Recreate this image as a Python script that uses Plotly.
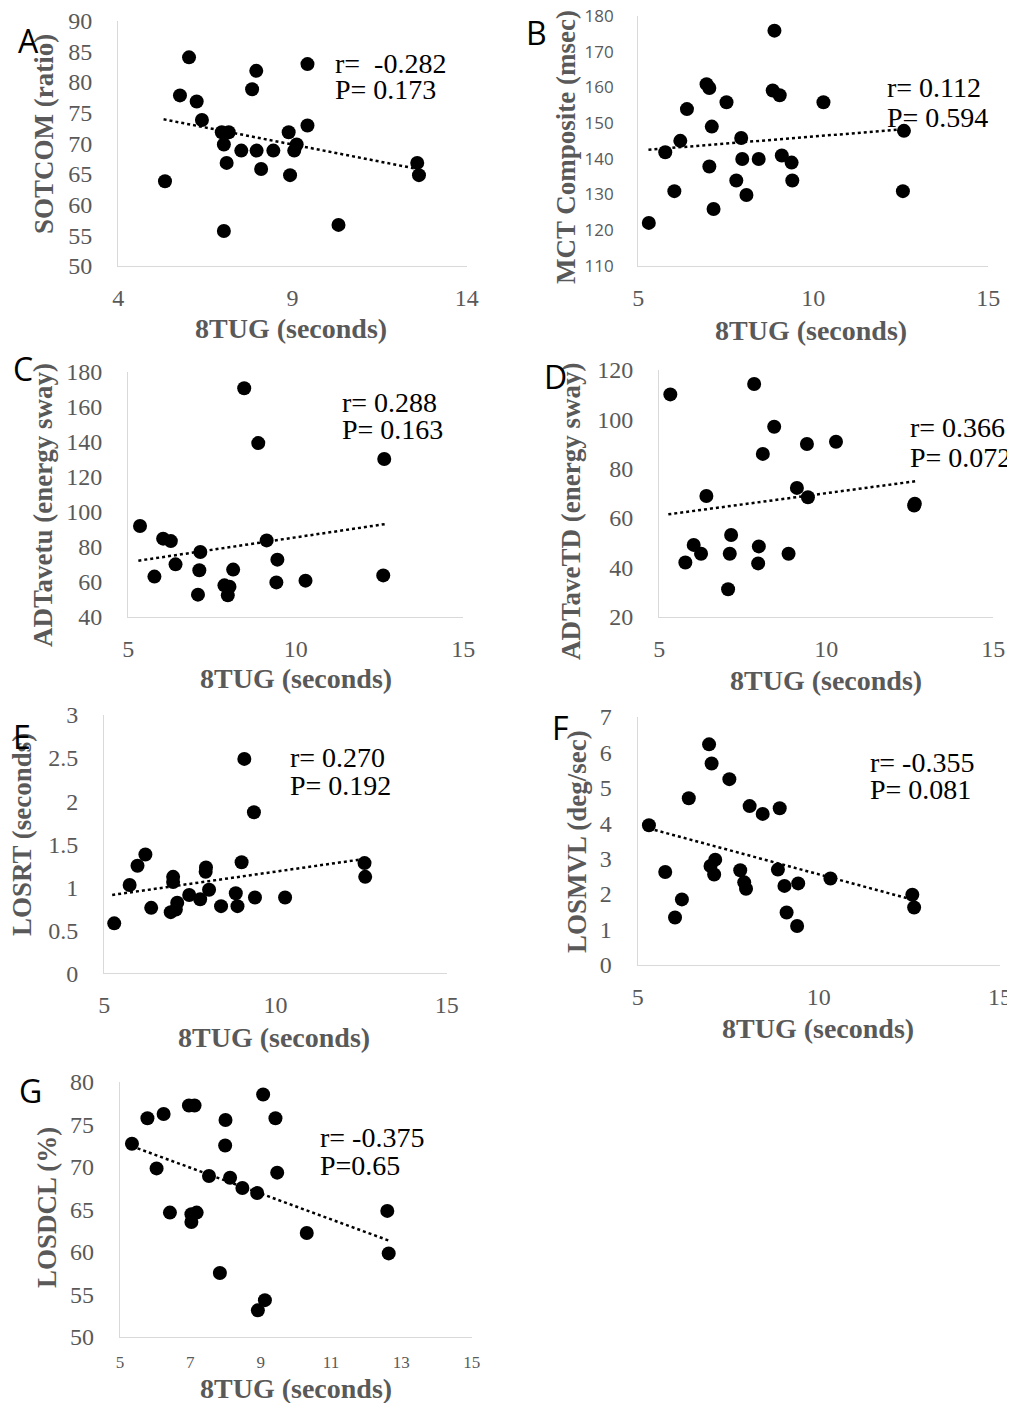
import plotly.graph_objects as go

W, H = 1015, 1403
OFF = 8  # page body margin offset of the plot div

# ---------------- data ----------------
A_x = [5.34, 6.03, 5.77, 6.25, 6.40, 6.97, 7.17, 7.03, 7.11, 7.03, 7.53, 7.97, 8.45, 7.84, 7.96, 8.10, 8.89, 8.93, 9.12, 9.05, 9.43, 9.43, 10.32, 12.58, 12.63]
A_y = [63.8, 84.0, 77.8, 76.8, 73.8, 71.8, 71.8, 69.8, 66.8, 55.7, 68.8, 68.8, 68.8, 78.8, 81.8, 65.8, 71.8, 64.8, 69.8, 68.8, 82.9, 72.9, 56.7, 66.8, 64.8]
A_trend_x = [5.3, 12.6]
A_trend_y = [73.9, 65.8]

B_x = [5.30, 5.77, 6.03, 6.20, 6.39, 6.95, 7.03, 7.03, 7.10, 7.15, 7.52, 7.80, 7.94, 7.97, 8.09, 8.44, 8.89, 8.84, 9.04, 9.10, 9.38, 9.40, 10.29, 12.59, 12.56]
B_y = [122.0, 141.8, 130.9, 145.0, 153.9, 160.9, 159.8, 137.8, 149.0, 125.9, 155.8, 133.9, 145.8, 139.9, 129.8, 139.9, 175.9, 159.1, 157.8, 140.9, 138.9, 133.9, 155.8, 147.8, 130.9]
B_trend_x = [5.29, 12.52]
B_trend_y = [142.5, 148.2]

C_x = [5.35, 5.78, 6.04, 6.27, 6.41, 7.15, 7.12, 7.08, 7.87, 8.02, 7.97, 8.13, 8.46, 8.88, 9.13, 9.45, 9.42, 10.29, 12.64, 12.61]
C_y = [91.8, 62.9, 84.6, 83.2, 69.9, 77.0, 66.5, 52.6, 57.9, 57.1, 52.2, 66.9, 170.5, 139.2, 83.6, 72.6, 59.6, 60.6, 130.1, 63.6]
C_trend_x = [5.30, 12.66]
C_trend_y = [72.0, 92.9]

D_x = [5.33, 5.78, 6.03, 6.25, 6.41, 7.15, 7.11, 7.06, 7.84, 7.98, 7.96, 8.10, 8.44, 8.87, 9.12, 9.42, 9.45, 10.29, 12.63, 12.65]
D_y = [110.1, 42.0, 49.1, 45.5, 68.9, 53.1, 45.5, 31.1, 114.3, 48.5, 41.6, 86.0, 97.0, 45.5, 72.2, 90.0, 68.4, 90.9, 65.1, 65.8]
D_trend_x = [5.27, 12.72]
D_trend_y = [61.5, 75.0]

E_x = [5.29, 5.74, 5.97, 6.20, 6.37, 6.94, 7.01, 7.01, 7.09, 7.13, 7.48, 7.80, 7.97, 7.96, 8.06, 8.41, 8.84, 8.89, 9.01, 9.09, 9.37, 9.40, 10.28, 12.60, 12.62]
E_y = [0.58, 1.025, 1.25, 1.38, 0.76, 0.71, 1.12, 1.06, 0.74, 0.82, 0.91, 0.86, 1.23, 1.18, 0.97, 0.78, 0.93, 0.78, 1.29, 2.49, 1.87, 0.88, 0.88, 1.28, 1.12]
E_trend_x = [5.23, 12.63]
E_trend_y = [0.91, 1.33]

F_x = [5.31, 5.76, 6.03, 6.22, 6.41, 6.97, 7.04, 7.01, 7.14, 7.11, 7.53, 7.83, 7.94, 7.99, 8.09, 8.45, 8.92, 8.87, 9.05, 9.11, 9.43, 9.40, 10.32, 12.58, 12.63]
F_y = [3.94, 2.62, 1.34, 1.85, 4.70, 6.22, 5.68, 2.79, 2.97, 2.55, 5.24, 2.67, 2.33, 2.15, 4.48, 4.26, 4.42, 2.69, 2.23, 1.48, 2.30, 1.10, 2.44, 1.98, 1.62]
F_trend_x = [5.31, 12.52]
F_trend_y = [3.85, 1.86]

G_x = [5.34, 5.78, 6.04, 6.24, 6.42, 6.96, 7.12, 7.03, 7.03, 7.18, 7.53, 7.84, 8.00, 7.99, 8.13, 8.48, 8.90, 8.92, 9.07, 9.12, 9.42, 9.47, 10.31, 12.60, 12.64]
G_y = [72.7, 75.7, 69.8, 76.2, 64.6, 77.2, 77.2, 64.4, 63.5, 64.6, 68.9, 57.5, 75.5, 72.5, 68.7, 67.5, 66.9, 53.1, 78.5, 54.3, 75.7, 69.3, 62.2, 64.8, 59.8]
G_trend_x = [5.34, 12.65]
G_trend_y = [72.4, 61.3]

panel_letters = ["A", "B", "C", "D", "E", "F", "G"]
y_titles = ["SOTCOM (ratio)", "MCT Composite (msec)", "ADTavetu (energy sway)",
            "ADTaveTD (energy sway)", "LOSRT (seconds)", "LOSMVL (deg/sec)", "LOSDCL (%)"]
x_title = "8TUG (seconds)"
r_texts = ["r=  -0.282", "r= 0.112", "r= 0.288", "r= 0.366", "r= 0.270", "r= -0.355", "r= -0.375"]
p_texts = ["P= 0.173", "P= 0.594", "P= 0.163", "P= 0.072", "P= 0.192", "P= 0.081", "P=0.65"]

x_ranges = [[4, 14], [5, 15], [5, 15], [5, 15], [5, 15], [5, 15], [5, 15]]
x_dticks = [5, 5, 5, 5, 5, 5, 2]
y_ranges = [[50, 90], [110, 180], [40, 180], [20, 120], [0, 3], [0, 7], [50, 80]]
y_dticks = [5, 10, 20, 20, 0.5, 1, 5]

xs = [A_x, B_x, C_x, D_x, E_x, F_x, G_x]
ys = [A_y, B_y, C_y, D_y, E_y, F_y, G_y]
txs = [A_trend_x, B_trend_x, C_trend_x, D_trend_x, E_trend_x, F_trend_x, G_trend_x]
tys = [A_trend_y, B_trend_y, C_trend_y, D_trend_y, E_trend_y, F_trend_y, G_trend_y]

# ---------------- layout geometry (page pixels) ----------------
# plot area: left, right, top, bottom
boxes = [
    (118.3, 466.7, 20.5, 266.0),
    (638.3, 988.3, 16.0, 265.7),
    (128.3, 463.3, 371.7, 616.7),
    (659.3, 993.3, 370.0, 616.7),
    (104.3, 446.7, 715.0, 973.3),
    (637.7, 1000.0, 716.7, 965.0),
    (120.0, 471.7, 1081.7, 1336.7),
]
xtitle_pos = [(291, 328), (811, 330), (296, 678), (826, 680), (274, 1037), (818, 1028), (296, 1388)]
ytitle_pos = [(44, 134), (566, 147), (43, 505), (571, 512), (22, 835), (577, 842), (47, 1208)]
letter_pos = [(28, 40), (536, 32), (23, 368), (555, 376), (22, 736), (560, 727), (30, 1090)]
rp_pos = [(333, 63, 90), (885, 87, 117), (340, 402, 430), (908, 428, 457),
          (288, 758, 785), (868, 762, 790), (318, 1137, 1165)]

GRAY = "#595959"
SERIF = "Liberation Serif"
SANS = "Open Sans"

def fx(px):
    return (px - OFF) / W

def fy(py):
    return 1 - (py - OFF) / H

fig = go.Figure()
layout = dict(
    template="none",
    width=W, height=H,
    margin=dict(l=0, r=0, t=0, b=0, pad=0, autoexpand=False),
    paper_bgcolor="white", plot_bgcolor="white",
    showlegend=False,
)
annotations = []

for i in range(7):
    n = "" if i == 0 else str(i + 1)
    xa, ya = "x" + n, "y" + n
    l, r, t, b = boxes[i]
    tick_font_x = dict(family=SERIF, size=17 if i == 6 else 24, color=GRAY)
    tick_font_y = dict(family=SANS if i == 1 else SERIF, size=17 if i == 1 else 24, color=GRAY)
    layout["xaxis" + n] = dict(
        domain=[fx(l), fx(r)], range=x_ranges[i], dtick=x_dticks[i], tick0=x_ranges[i][0],
        tickmode="linear", ticklabeloverflow="allow",
        anchor=ya, showgrid=False, zeroline=False, showline=True, automargin=False,
        linecolor="#d9d9d9", linewidth=1.3, ticks="", tickfont=tick_font_x,
        ticklabelstandoff=10,
    )
    layout["yaxis" + n] = dict(
        domain=[fy(b), fy(t)], range=y_ranges[i], dtick=y_dticks[i], tick0=y_ranges[i][0],
        tickmode="linear", ticklabeloverflow="allow",
        anchor=xa, showgrid=False, zeroline=False, showline=True, automargin=False,
        linecolor="#d9d9d9", linewidth=1.3, ticks="", tickfont=tick_font_y,
        ticklabelstandoff=20,
    )
    fig.add_trace(go.Scatter(
        x=xs[i], y=ys[i], mode="markers", xaxis=xa, yaxis=ya,
        marker=dict(color="black", size=14, line=dict(width=0)),
        cliponaxis=False,
    ))
    fig.add_trace(go.Scatter(
        x=txs[i], y=tys[i], mode="lines", xaxis=xa, yaxis=ya,
        line=dict(color="black", width=2.5, dash="dot"),
    ))
    # axis titles
    annotations.append(dict(
        x=fx(xtitle_pos[i][0]), y=fy(xtitle_pos[i][1]), xref="paper", yref="paper",
        text="<b>" + x_title + "</b>", showarrow=False, xanchor="center", yanchor="middle",
        font=dict(family=SERIF, size=28, color=GRAY),
    ))
    annotations.append(dict(
        x=fx(ytitle_pos[i][0]), y=fy(ytitle_pos[i][1]), xref="paper", yref="paper",
        text="<b>" + y_titles[i] + "</b>", showarrow=False, xanchor="center", yanchor="middle",
        textangle=-90, font=dict(family=SERIF, size=27, color=GRAY),
    ))
    # panel letter
    annotations.append(dict(
        x=fx(letter_pos[i][0]), y=fy(letter_pos[i][1]), xref="paper", yref="paper",
        text=panel_letters[i], showarrow=False, xanchor="center", yanchor="middle",
        font=dict(family=SANS, size=32, color="black"),
    ))
    # r / P
    rx, ry1, ry2 = rp_pos[i]
    annotations.append(dict(
        x=fx(rx), y=fy(ry1), xref="paper", yref="paper", text=r_texts[i],
        showarrow=False, xanchor="left", yanchor="middle",
        font=dict(family=SERIF, size=28, color="black"),
    ))
    annotations.append(dict(
        x=fx(rx), y=fy(ry2), xref="paper", yref="paper", text=p_texts[i],
        showarrow=False, xanchor="left", yanchor="middle",
        font=dict(family=SERIF, size=28, color="black"),
    ))

layout["annotations"] = annotations
fig.update_layout(**layout)
fig.write_html("out.html")
